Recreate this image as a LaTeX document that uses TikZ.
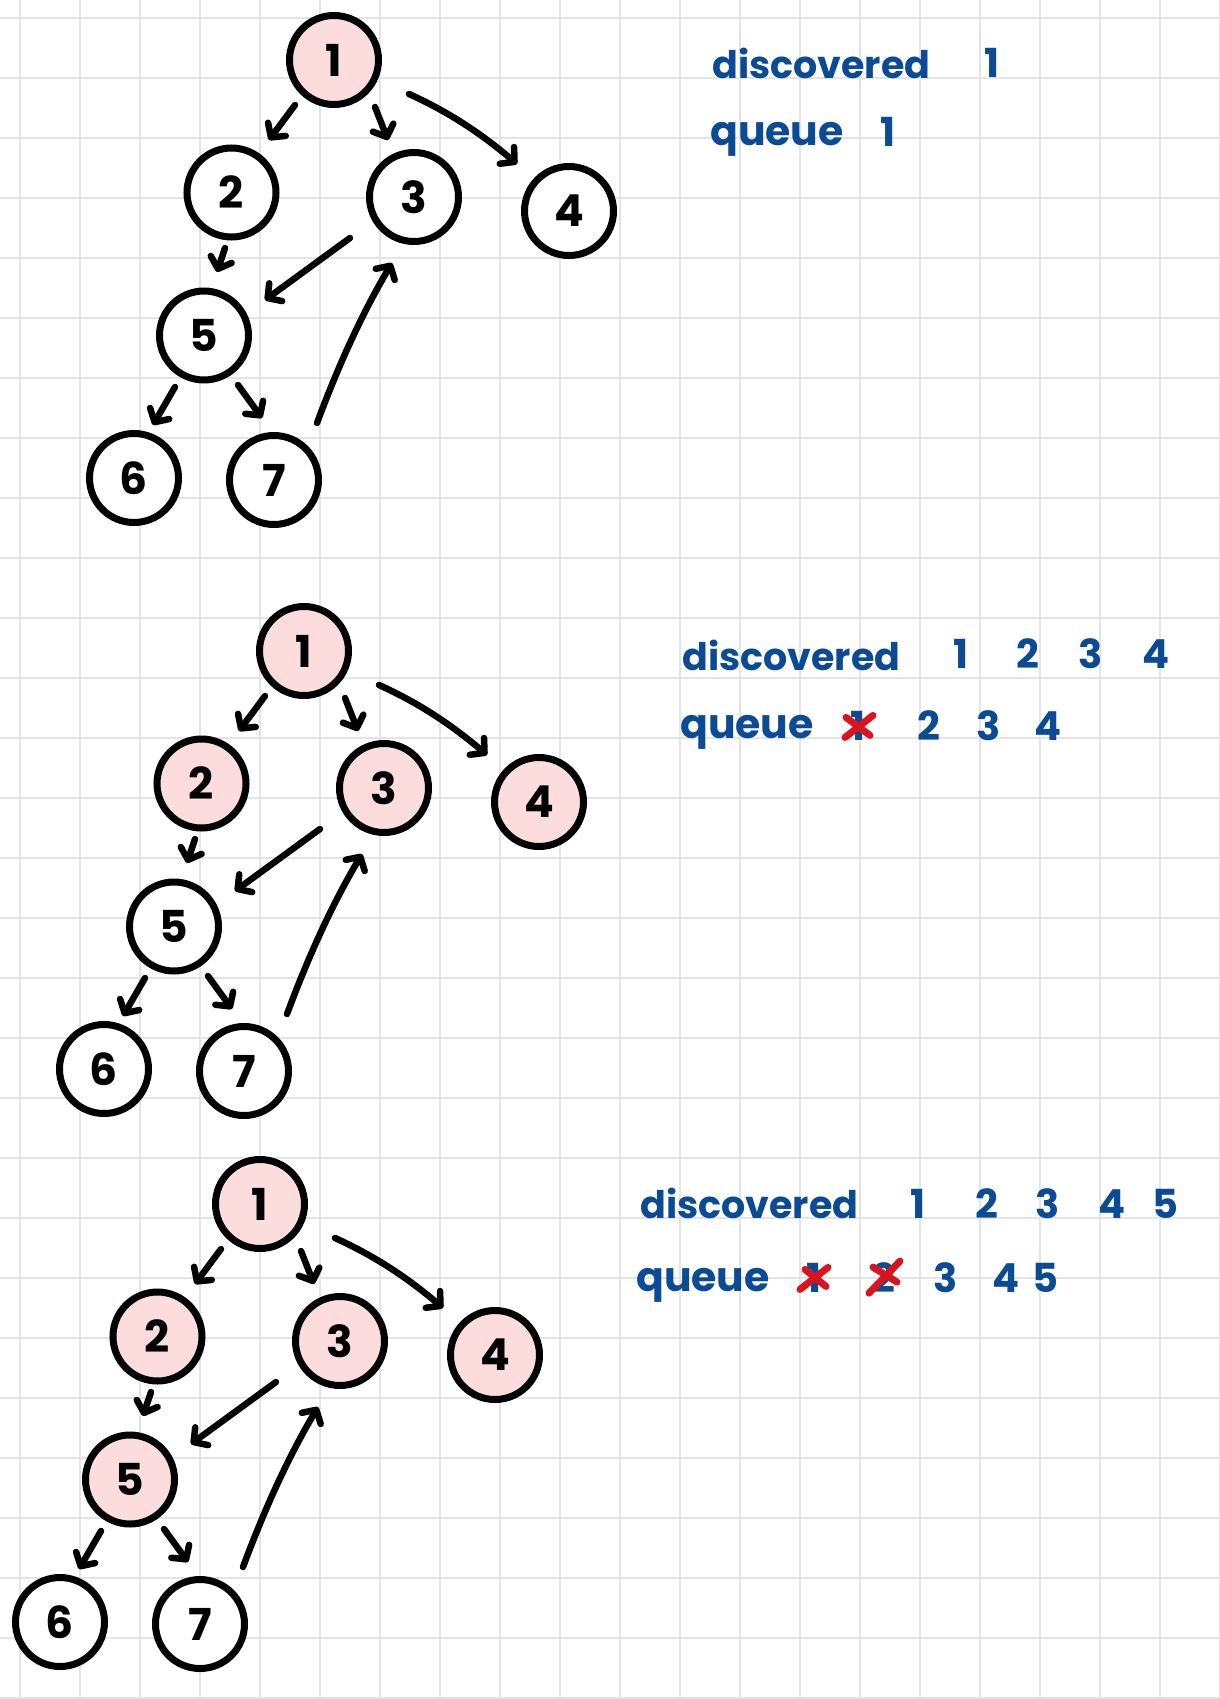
\documentclass[tikz,border=0pt]{standalone}
\usepackage{fontspec}
\newfontfamily\hand{Poppins}
\usetikzlibrary{arrows.meta}
\definecolor{gridc}{HTML}{E4E4E4}
\definecolor{pinkc}{HTML}{FCDCDC}
\definecolor{inkblue}{HTML}{0B4A94}
\definecolor{inkred}{HTML}{D8141E}
\tikzset{
  vnode/.style={circle, draw=black, line width=7pt, minimum size=89pt, inner sep=0pt,
    font=\hand\bfseries\fontsize{44}{44}\selectfont},
  seen/.style={vnode, fill=pinkc},
  unseen/.style={vnode, fill=white},
  edgearrow/.style={line width=6.5pt, line cap=round,
    -{Straight Barb[length=10pt, width=22pt, round]}},
  gridline/.style={draw=gridc, line width=2.2pt},
  lbl/.style={text=inkblue, font=\hand\bfseries\fontsize{38}{38}\selectfont, inner sep=0pt, anchor=base west},
  qlbl/.style={text=inkblue, font=\hand\bfseries\fontsize{41}{41}\selectfont, inner sep=0pt, anchor=base west},
  dig/.style={text=inkblue, font=\hand\bfseries\fontsize{40}{40}\selectfont, inner sep=0pt, anchor=base},
  crossmark/.style={draw=inkred, line width=7pt, line cap=round},
}
% #1 shift, #2 prefix, #3 style of nodes 2,3,4, #4 style of node 5
\newcommand\graphpanel[4]{%
\begin{scope}[shift={#1}]
  \node[seen] (#2n1) at (334,60) {1};
  \node[#3]   (#2n2) at (231.5,192.5) {2};
  \node[#3]   (#2n3) at (414,197) {3};
  \node[#3]   (#2n4) at (569,211) {4};
  \node[#4]   (#2n5) at (204,335.5) {5};
  \node[unseen] (#2n6) at (134,478) {6};
  \node[unseen] (#2n7) at (274,480) {7};
  \draw[edgearrow] ([shift={(-39,45)}]#2n1.center) -- ([shift={(37.5,-52.5)}]#2n2.center);
  \draw[edgearrow] ([shift={(41,47)}]#2n1.center) -- ([shift={(-26,-57)}]#2n3.center);
  \draw[edgearrow] ([shift={(75,34)}]#2n1.center)
     .. controls ([shift={(116,52.5)}]#2n1.center) and ([shift={(-86,-76)}]#2n4.center)
     .. ([shift={(-52,-47)}]#2n4.center);
  \draw[edgearrow] ([shift={(-6.5,55.5)}]#2n2.center) -- ([shift={(13,-63.5)}]#2n5.center);
  \draw[edgearrow] ([shift={(-64,41)}]#2n3.center) -- ([shift={(61,-35.5)}]#2n5.center);
  \draw[edgearrow] ([shift={(-29,51.5)}]#2n5.center) -- ([shift={(19,-53)}]#2n6.center);
  \draw[edgearrow] ([shift={(34,49.5)}]#2n5.center) -- ([shift={(-12,-62)}]#2n7.center);
  \draw[edgearrow] ([shift={(43,-57)}]#2n7.center)
     .. controls ([shift={(64,-113.4)}]#2n7.center) and ([shift={(-52.6,117.6)}]#2n3.center)
     .. ([shift={(-22,66)}]#2n3.center);
\end{scope}}
\begin{document}
\begin{tikzpicture}[x=1pt,y=-1pt]
\useasboundingbox (0,0) rectangle (1220,1699);
\fill[white] (0,0) rectangle (1220,1699);
\foreach \gx in {20,80,...,1220} \draw[gridline] (\gx,0) -- (\gx,1699);
\foreach \gy in {18,78,...,1698} \draw[gridline] (0,\gy) -- (1220,\gy);

\graphpanel{(0,0)}{a}{unseen}{unseen}
\graphpanel{(-30,591)}{b}{seen}{unseen}
\graphpanel{(-74,1144)}{c}{seen}{seen}

% panel 1 text
\node[lbl] (adisc) at (712,79) {discovered};
\node[dig] (ad1) at (992,78) {1};
\node[qlbl] (aq) at (710,146) {queue};
\node[dig] (aq1) at (888,147) {1};

% panel 2 text
\node[lbl] (bdisc) at (682,670) {discovered};
\node[dig] (bd1) at (961,668) {1};
\node[dig] (bd2) at (1028,668) {2};
\node[dig] (bd3) at (1091,668) {3};
\node[dig] (bd4) at (1156,668) {4};
\node[qlbl] (bq) at (680,738) {queue};
\node[dig] (bq1) at (858,740) {1};
\node[dig] (bq2) at (929,740) {2};
\node[dig] (bq3) at (989,740) {3};
\node[dig] (bq4) at (1048,740) {4};
\draw[crossmark] ([shift={(-13,12)}]bq1.center) -- ([shift={(15,-10)}]bq1.center);
\draw[crossmark] ([shift={(-12,-8)}]bq1.center) -- ([shift={(12,10)}]bq1.center);

% panel 3 text
\node[lbl] (cdisc) at (640,1218) {discovered};
\node[dig] (cd1) at (918,1218) {1};
\node[dig] (cd2) at (987,1218) {2};
\node[dig] (cd3) at (1048,1218) {3};
\node[dig] (cd4) at (1112,1218) {4};
\node[dig] (cd5) at (1165,1218) {5};
\node[qlbl] (cq) at (636,1291) {queue};
\node[dig] (cq1) at (814,1292) {1};
\node[dig] (cq2) at (884,1292) {2};
\node[dig] (cq3) at (946,1292) {3};
\node[dig] (cq4) at (1006,1292) {4};
\node[dig] (cq5) at (1045,1292) {5};
\draw[crossmark] ([shift={(-14,12)}]cq1.center) -- ([shift={(14,-10)}]cq1.center);
\draw[crossmark] ([shift={(-9,-8)}]cq1.center) -- ([shift={(12,9)}]cq1.center);
\draw[crossmark] ([shift={(-15,16)}]cq2.center) -- ([shift={(16,-16)}]cq2.center);
\draw[crossmark] ([shift={(-11,-10)}]cq2.center) -- ([shift={(13,5)}]cq2.center);
\end{tikzpicture}
\end{document}
